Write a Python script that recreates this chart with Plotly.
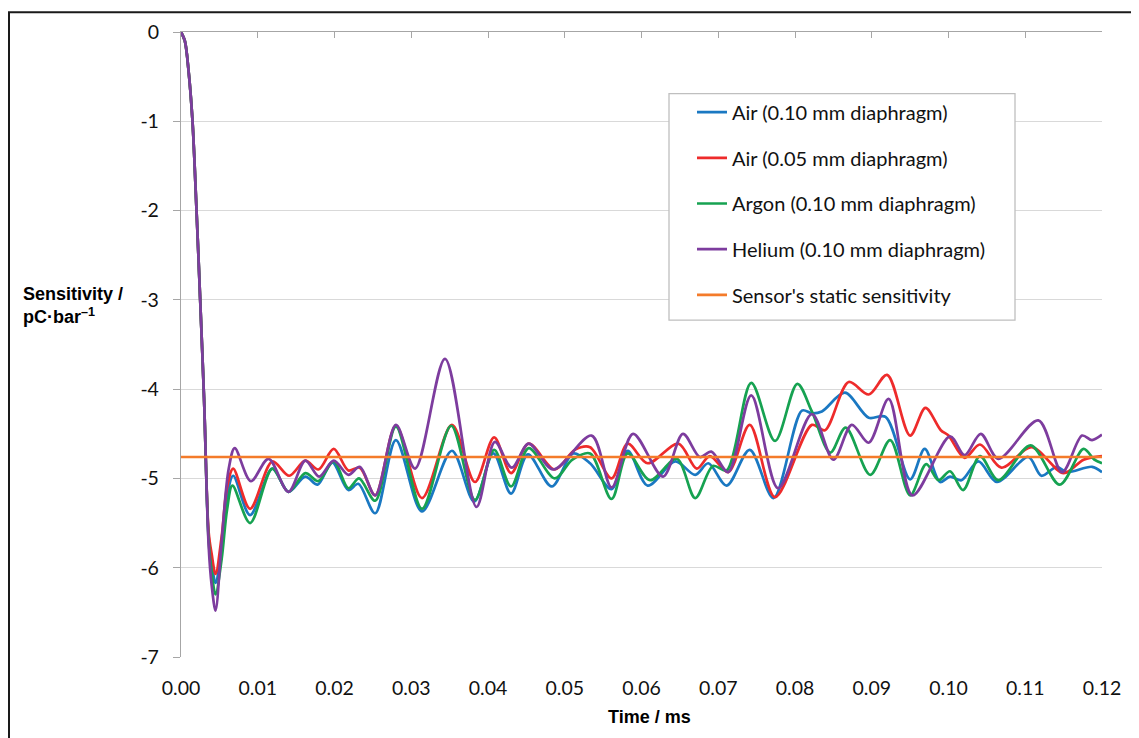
import plotly.graph_objects as go

# ---------------- data ----------------
t_blue = [0, 0.0005, 0.001, 0.0015, 0.002, 0.0025, 0.003, 0.0036, 0.004, 0.0045, 0.0053, 0.006, 0.0068,
          0.0090, 0.0119, 0.0140, 0.0162, 0.0178, 0.0197, 0.0218, 0.0231, 0.0253, 0.0280, 0.0314, 0.0353,
          0.0382, 0.0407, 0.0430, 0.0452, 0.0483, 0.0511, 0.0533, 0.0561, 0.0582, 0.0608, 0.0644, 0.0670,
          0.0687, 0.0711, 0.0741, 0.0772, 0.0809, 0.0822, 0.0835, 0.0865, 0.0896, 0.0918, 0.0950, 0.0969,
          0.0989, 0.1002, 0.1017, 0.1039, 0.1063, 0.1104, 0.1121, 0.1141, 0.1154, 0.1187, 0.1200]
v_blue = [0, -0.1, -0.45, -1.0, -1.95, -3.0, -4.1, -5.65, -5.95, -6.17, -5.75, -5.2, -4.97,
          -5.41, -4.89, -5.15, -4.98, -5.07, -4.82, -5.13, -5.06, -5.39, -4.57, -5.37, -4.69,
          -5.26, -4.72, -5.17, -4.73, -5.09, -4.72, -4.83, -5.12, -4.69, -5.08, -4.81, -4.96,
          -4.83, -5.08, -4.68, -5.22, -4.24, -4.27, -4.25, -4.04, -4.32, -4.31, -5.01, -4.67,
          -5.04, -4.98, -5.02, -4.81, -5.04, -4.76, -4.97, -4.87, -4.93, -4.87, -4.93]

t_red = [0, 0.0005, 0.001, 0.0015, 0.002, 0.0025, 0.003, 0.0036, 0.004, 0.0045, 0.0053, 0.006, 0.0068,
         0.0090, 0.0119, 0.0141, 0.0162, 0.0179, 0.0199, 0.0218, 0.0233, 0.0253, 0.0280, 0.0314, 0.0353,
         0.0383, 0.0408, 0.0430, 0.0453, 0.0487, 0.0513, 0.0533, 0.0561, 0.0582, 0.0608, 0.0648, 0.0672,
         0.0689, 0.0713, 0.0741, 0.0774, 0.0822, 0.0839, 0.0870, 0.0896, 0.0920, 0.0950, 0.0970, 0.0990,
         0.1000, 0.1021, 0.1041, 0.1069, 0.1108, 0.1150, 0.1176, 0.1200]
v_red = [0, -0.1, -0.45, -1.0, -1.95, -3.0, -4.1, -5.6, -5.85, -6.07, -5.65, -5.1, -4.89,
         -5.34, -4.81, -4.97, -4.80, -4.90, -4.67, -4.91, -4.88, -5.19, -4.41, -5.22, -4.40,
         -5.04, -4.54, -4.94, -4.61, -4.90, -4.68, -4.65, -5.00, -4.61, -4.83, -4.61, -4.89,
         -4.75, -4.93, -4.40, -5.21, -4.40, -4.46, -3.92, -4.06, -3.84, -4.52, -4.21, -4.46,
         -4.52, -4.77, -4.62, -4.88, -4.65, -4.94, -4.79, -4.75]

t_green = [0, 0.0005, 0.001, 0.0015, 0.002, 0.0025, 0.003, 0.0036, 0.004, 0.0045, 0.0053, 0.006, 0.0067,
           0.0090, 0.0119, 0.0140, 0.0162, 0.0179, 0.0199, 0.0218, 0.0232, 0.0253, 0.0280, 0.0314, 0.0352,
           0.0383, 0.0408, 0.0430, 0.0453, 0.0487, 0.0510, 0.0533, 0.0561, 0.0582, 0.0611, 0.0646, 0.0670,
           0.0693, 0.0711, 0.0743, 0.0774, 0.0803, 0.0822, 0.0846, 0.0866, 0.0898, 0.0924, 0.0950, 0.0971,
           0.0987, 0.1002, 0.1019, 0.1041, 0.1065, 0.1107, 0.1145, 0.1176, 0.1190, 0.1200]
v_green = [0, -0.1, -0.45, -1.0, -1.95, -3.0, -4.1, -5.7, -6.05, -6.3, -5.9, -5.35, -5.08,
           -5.50, -4.89, -5.15, -4.94, -5.03, -4.81, -5.11, -5.00, -5.25, -4.42, -5.34, -4.41,
           -5.24, -4.68, -5.09, -4.66, -5.00, -4.79, -4.72, -5.23, -4.72, -5.02, -4.78, -5.22,
           -4.86, -4.91, -3.93, -4.58, -3.94, -4.25, -4.71, -4.43, -4.96, -4.57, -5.19, -4.84,
           -5.02, -4.92, -5.13, -4.75, -5.02, -4.63, -5.07, -4.67, -4.79, -4.83]

t_purple = [0, 0.0005, 0.001, 0.0015, 0.002, 0.0025, 0.003, 0.0036, 0.004, 0.0045, 0.0053, 0.0062, 0.0070,
            0.0091, 0.0114, 0.0140, 0.0162, 0.0180, 0.0199, 0.0218, 0.0233, 0.0253, 0.0280, 0.0305, 0.0344,
            0.0385, 0.0409, 0.0431, 0.0453, 0.0485, 0.0535, 0.0561, 0.0589, 0.0628, 0.0654, 0.0676, 0.0691,
            0.0713, 0.0743, 0.0778, 0.0822, 0.0850, 0.0874, 0.0896, 0.0922, 0.0953, 0.1002, 0.1021, 0.1042,
            0.1065, 0.1117, 0.1148, 0.1174, 0.1187, 0.1200]
v_purple = [0, -0.1, -0.45, -1.0, -1.95, -3.0, -4.1, -5.75, -6.2, -6.48, -5.7, -4.9, -4.66,
            -5.03, -4.78, -5.15, -4.80, -4.98, -4.80, -4.96, -4.87, -5.19, -4.40, -4.89, -3.66,
            -5.32, -4.59, -4.88, -4.61, -4.90, -4.52, -5.10, -4.50, -4.98, -4.50, -4.76, -4.70,
            -4.93, -4.07, -5.11, -4.28, -4.79, -4.40, -4.60, -4.11, -5.19, -4.53, -4.74, -4.50,
            -4.78, -4.35, -4.93, -4.52, -4.57, -4.51]

t_static = [0, 0.12]
v_static = [-4.76, -4.76]

series_names = ["Air (0.10 mm diaphragm)", "Air (0.05 mm diaphragm)", "Argon (0.10 mm diaphragm)",
                "Helium (0.10 mm diaphragm)", "Sensor's static sensitivity"]
series_colors = ["#1a78c2", "#ee2b2b", "#16a251", "#7d3c9e", "#f47b2a"]

y_tick_vals = [0, -1, -2, -3, -4, -5, -6, -7]
y_tick_text = ["0", "-1", "-2", "-3", "-4", "-5", "-6", "-7"]

TICK_FONT = dict(family="Lato, 'Open Sans', sans-serif", size=19.5, color="#111111")
AXIS_COL = "#a6a6a6"
GRID_COL = "#d9d9d9"

fig = go.Figure()
data = [(t_blue, v_blue), (t_red, v_red), (t_green, v_green), (t_purple, v_purple)]
for i, (tt, vv) in enumerate(data):
    fig.add_trace(go.Scatter(x=tt, y=vv, mode="lines", name=series_names[i],
                             line=dict(color=series_colors[i], width=2.7, shape="spline", smoothing=0.9),
                             legendgroup=f"g{i}"))
fig.add_trace(go.Scatter(x=t_static, y=v_static, mode="lines", name=series_names[4],
                         line=dict(color=series_colors[4], width=2.7), legendgroup="g4",
                         xaxis="x2"))

# page offset of the figure (browser default body margin)
OFF = 8
W, H = 1139, 738
PL, PR, PT, PB = 181, 1102, 28, 657          # plot-area edges in page pixels
L, T = PL - OFF, PT - OFF
R, B = W - (PR - OFF), H - (PB - OFF)
pw, ph = PR - PL, PB - PT

def px_x(p):
    return (p - PL) / pw

def px_y(p):
    return 1 - (p - PT) / ph

fig.update_layout(
    width=W, height=H,
    margin=dict(l=L, r=R, t=T, b=B),
    paper_bgcolor="white", plot_bgcolor="white",
    showlegend=True,
    xaxis=dict(range=[0, 0.12], dtick=0.01, tick0=0, tickformat=".2f", showline=False,
               ticks="", showgrid=False, zeroline=False, tickfont=TICK_FONT,
               ticklabelstandoff=17),
    xaxis2=dict(range=[0, 0.12], dtick=0.01, tick0=0, overlaying="x", side="top", anchor="y",
                showline=True, linecolor=AXIS_COL, linewidth=1.3, ticks="inside", ticklen=6,
                tickcolor=AXIS_COL, tickwidth=1.3, showticklabels=False, showgrid=False,
                zeroline=False),
    yaxis=dict(range=[-7, 0], tickvals=y_tick_vals, ticktext=y_tick_text, showline=True,
               linecolor=AXIS_COL, linewidth=1.3, ticks="outside", ticklen=7,
               tickcolor=AXIS_COL, tickwidth=1.3, showgrid=True, gridcolor=GRID_COL,
               gridwidth=1.3, zeroline=False, tickfont=TICK_FONT, ticklabelstandoff=10),
    legend=dict(x=px_x(692), y=px_y(89), xanchor="left", yanchor="top",
                bgcolor="rgba(0,0,0,0)", borderwidth=0, traceorder="grouped",
                tracegroupgap=16.7,
                font=dict(family="Lato, 'Open Sans', sans-serif", size=20, color="#111111")),
    shapes=[
        dict(type="rect", xref="paper", yref="paper", x0=px_x(669), x1=px_x(1015),
             y0=px_y(318), y1=px_y(90), line=dict(color="#bfbfbf", width=1.3),
             fillcolor="white", layer="above"),
        dict(type="rect", xref="paper", yref="paper", x0=px_x(9), x1=px_x(1137),
             y0=px_y(746), y1=px_y(8), line=dict(color="#1a1a1a", width=2),
             fillcolor="rgba(0,0,0,0)", layer="above"),
    ],
    annotations=[
        dict(text="<b>Sensitivity /</b><br><b>pC·bar<sup>–1</sup></b>", xref="paper", yref="paper",
             x=px_x(21), y=px_y(303), xanchor="left", yanchor="middle", align="left",
             showarrow=False,
             font=dict(family="Liberation Sans, Arial, sans-serif", size=18, color="#000000")),
        dict(text="<b>Time / ms</b>", xref="paper", yref="paper",
             x=px_x(649), y=px_y(717), xanchor="center", yanchor="middle", showarrow=False,
             font=dict(family="Liberation Sans, Arial, sans-serif", size=18, color="#000000")),
    ],
)

fig.write_html("out.html")
